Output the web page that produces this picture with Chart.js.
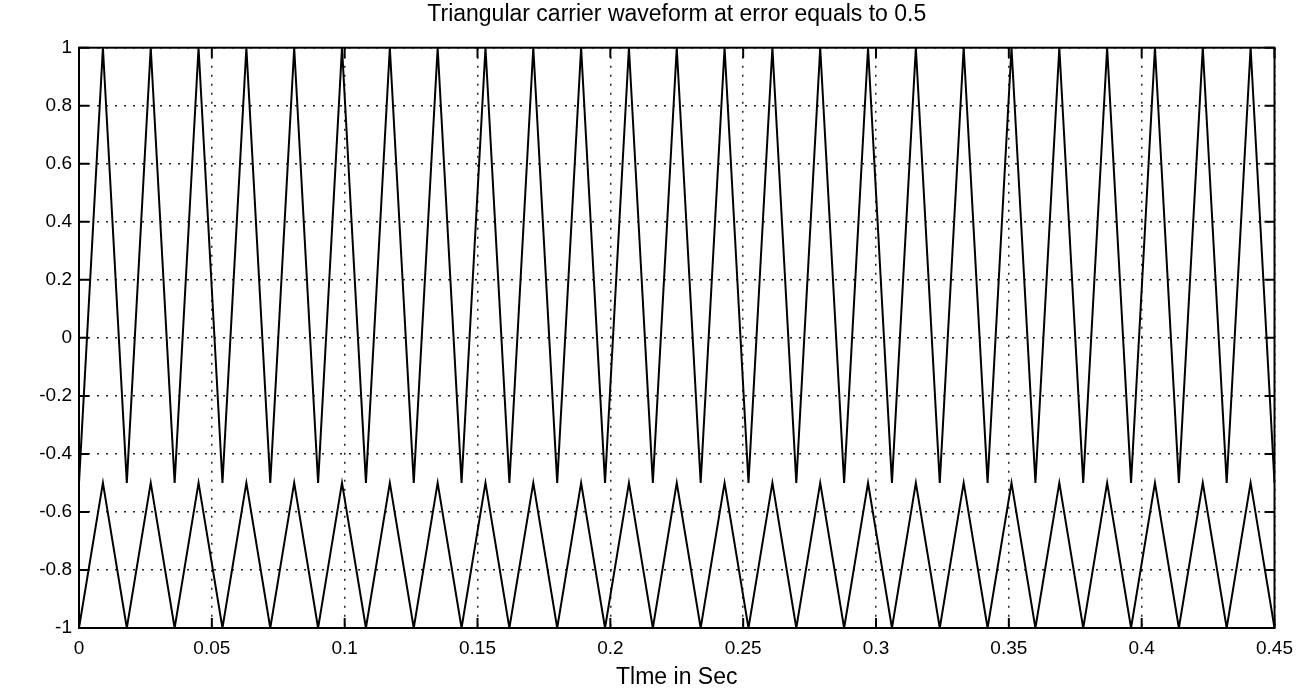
<!DOCTYPE html>
<html>
<head>
<meta charset="utf-8">
<script src="https://cdn.jsdelivr.net/npm/chart.js@4/dist/chart.umd.min.js"></script>
<style>
  html, body { margin: 0; padding: 0; background: #fff; }
  #wrap { width: 1302px; height: 697px; }
</style>
</head>
<body>
<div id="wrap"><canvas id="c" width="1302" height="697"></canvas></div>
<script>
// Vertex times (s) of the triangular carriers
const times = [0, 0.009, 0.018, 0.027, 0.036, 0.045, 0.054, 0.063, 0.072, 0.081,
  0.09, 0.099, 0.108, 0.117, 0.126, 0.135, 0.144, 0.153, 0.162, 0.171,
  0.18, 0.189, 0.198, 0.207, 0.216, 0.225, 0.234, 0.243, 0.252, 0.261,
  0.27, 0.279, 0.288, 0.297, 0.306, 0.315, 0.324, 0.333, 0.342, 0.351,
  0.36, 0.369, 0.378, 0.387, 0.396, 0.405, 0.414, 0.423, 0.432, 0.441, 0.45];
// Upper carrier: troughs -0.5, peaks 1
const upperValues = [-0.5, 1, -0.5, 1, -0.5, 1, -0.5, 1, -0.5, 1,
  -0.5, 1, -0.5, 1, -0.5, 1, -0.5, 1, -0.5, 1,
  -0.5, 1, -0.5, 1, -0.5, 1, -0.5, 1, -0.5, 1,
  -0.5, 1, -0.5, 1, -0.5, 1, -0.5, 1, -0.5, 1,
  -0.5, 1, -0.5, 1, -0.5, 1, -0.5, 1, -0.5, 1, -0.5];
// Lower carrier: troughs -1, peaks -0.5
const lowerValues = [-1, -0.5, -1, -0.5, -1, -0.5, -1, -0.5, -1, -0.5,
  -1, -0.5, -1, -0.5, -1, -0.5, -1, -0.5, -1, -0.5,
  -1, -0.5, -1, -0.5, -1, -0.5, -1, -0.5, -1, -0.5,
  -1, -0.5, -1, -0.5, -1, -0.5, -1, -0.5, -1, -0.5,
  -1, -0.5, -1, -0.5, -1, -0.5, -1, -0.5, -1, -0.5, -1];
const xTicks = [0, 0.05, 0.1, 0.15, 0.2, 0.25, 0.3, 0.35, 0.4, 0.45];
const yTicks = [-1, -0.8, -0.6, -0.4, -0.2, 0, 0.2, 0.4, 0.6, 0.8, 1];
const titleText = 'Triangular carrier waveform at error equals to 0.5';
const xTitle = 'Tlme in Sec';

const FONT = "'Liberation Sans', Arial, Helvetica, sans-serif";
const fmt = v => String(Number(v.toFixed(3)));

const boxPlugin = {
  id: 'matlabBox',
  afterDatasetsDraw(chart) {
    const {ctx, chartArea: a, scales: {x, y}} = chart;
    ctx.save();
    ctx.strokeStyle = '#000';
    ctx.lineWidth = 2;
    ctx.strokeRect(a.left, a.top, a.right - a.left, a.bottom - a.top);
    const L = 10;
    ctx.beginPath();
    xTicks.forEach(v => {
      const px = x.getPixelForValue(v);
      ctx.moveTo(px, a.bottom); ctx.lineTo(px, a.bottom - L);
      ctx.moveTo(px, a.top); ctx.lineTo(px, a.top + L);
    });
    yTicks.forEach(v => {
      const py = y.getPixelForValue(v);
      ctx.moveTo(a.left, py); ctx.lineTo(a.left + L, py);
      ctx.moveTo(a.right, py); ctx.lineTo(a.right - L, py);
    });
    ctx.stroke();
    ctx.restore();
  }
};

const toPts = (xs, ys) => xs.map((t, i) => ({x: t, y: ys[i]}));

new Chart(document.getElementById('c'), {
  type: 'scatter',
  data: {
    datasets: [
      { label: 'upper', data: toPts(times, upperValues), showLine: true,
        borderColor: '#000', borderWidth: 2, pointRadius: 0, tension: 0 },
      { label: 'lower', data: toPts(times, lowerValues), showLine: true,
        borderColor: '#000', borderWidth: 2, pointRadius: 0, tension: 0 }
    ]
  },
  options: {
    responsive: false,
    animation: false,
    layout: { padding: { left: 0, right: 24, top: 0, bottom: 0 } },
    plugins: {
      legend: { display: false },
      tooltip: { enabled: false },
      title: { display: false }
    },
    scales: {
      x: {
        type: 'linear', min: 0, max: 0.45,
        afterBuildTicks: s => { s.ticks = xTicks.map(v => ({value: v})); },
        afterFit: s => { s.height = 69; },
        ticks: { callback: v => fmt(v), color: '#000', padding: 9,
                 font: { family: FONT, size: 19 }, maxRotation: 0, autoSkip: false },
        grid: { color: '#222', lineWidth: 1.5, drawTicks: false },
        border: { display: false, dash: [2, 7] },
        title: { display: true, text: xTitle, color: '#000',
                 font: { family: FONT, size: 23 }, padding: { top: 4, bottom: 5.2 } }
      },
      top: {
        type: 'linear', position: 'top', min: 0, max: 0.45,
        afterFit: s => { s.height = 47.7; },
        ticks: { display: false },
        grid: { display: false, drawTicks: false },
        border: { display: false },
        title: { display: true, text: titleText, color: '#000',
                 font: { family: FONT, size: 23 }, padding: { top: 1.2, bottom: 0 } }
      },
      y: {
        type: 'linear', min: -1, max: 1,
        afterBuildTicks: s => { s.ticks = yTicks.map(v => ({value: v})); },
        afterFit: s => { s.width = 79; },
        ticks: { callback: v => fmt(v), color: '#000', padding: 7,
                 font: { family: FONT, size: 19 }, autoSkip: false },
        grid: { color: '#222', lineWidth: 1.5, drawTicks: false },
        border: { display: false, dash: [2, 7] }
      }
    }
  },
  plugins: [boxPlugin]
});
</script>
</body>
</html>
